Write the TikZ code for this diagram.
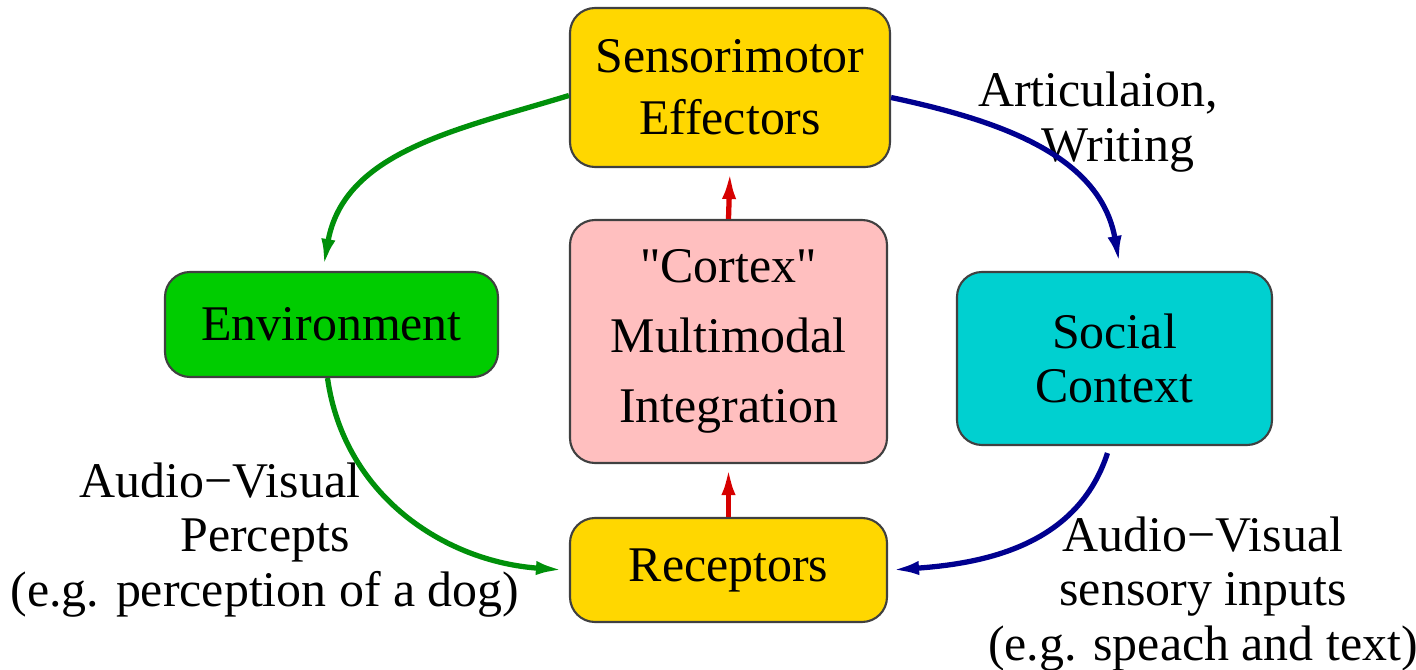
\documentclass[tikz,border=0pt]{standalone}
\usepackage{fontspec}
\setmainfont{LiberationSerif}[Extension=.ttf, UprightFont=*-Regular, BoldFont=*-Bold, ItalicFont=*-Italic, BoldItalicFont=*-BoldItalic]
\usepackage{xcolor}
\definecolor{boxgold}{HTML}{FFD700}
\definecolor{envgreen}{HTML}{00CC00}
\definecolor{cortexpink}{HTML}{FFBFBF}
\definecolor{socialcyan}{HTML}{00D0D0}
\definecolor{arrgreen}{HTML}{00900A}
\definecolor{arrblue}{HTML}{00008F}
\definecolor{arrred}{HTML}{D60000}
\usetikzlibrary{arrows.meta}

\begin{document}
\begin{tikzpicture}[box/.style={draw=black!75, line width=0.6pt, rounded corners=0.25cm, align=center, inner sep=0pt},
  flow/.style={line width=1.5pt, -{Latex[length=0.28cm, width=0.14cm]}},
  every node/.style={font=\fontsize{14.2}{15.5}\selectfont}]
  \useasboundingbox (0,0) rectangle (14.16,-6.70);
  \node[box, fill=boxgold, minimum width=3.20cm, minimum height=1.59cm] (effectors) at (7.30,-0.875) {Sensorimotor\\[2.1pt]Effectors};
  \node[box, fill=cortexpink, minimum width=3.17cm, minimum height=2.43cm] (cortex) at (7.285,-3.415) {\textquotedbl Cortex\textquotedbl\\[4.4pt]Multimodal\\[4.4pt]Integration};
  \node[box, fill=boxgold, minimum width=3.17cm, minimum height=1.04cm] (receptors) at (7.285,-5.70) {Receptors};
  \node[box, fill=envgreen, minimum width=3.33cm, minimum height=1.05cm] (environment) at (3.315,-3.245) {Environment};
  \node[box, fill=socialcyan, minimum width=3.15cm, minimum height=1.73cm] (social) at (11.145,-3.585) {Social\\Context};
  \node[align=center] (artic) at (10.98,-1.22) {Articulaion,\\\hspace*{0.4cm}Writing};
  \node[align=center] (percepts) at (2.65,-5.40) {Audio−Visual\hspace*{0.9cm}\\Percepts\\(e.g. perception of a dog)};
  \node[align=center] (sensory) at (12.03,-5.94) {Audio−Visual\\sensory inputs\\(e.g. speach and text)};
  \draw[flow, arrred] (receptors.north) -- ([yshift=-0.03cm]cortex.south);
  \draw[flow, arrred] (cortex.north) -- ([yshift=-0.03cm]effectors.south);
  \draw[flow, arrgreen] ([yshift=-0.08cm]effectors.west) to[out=197, in=80] ([xshift=-0.08cm, yshift=0.04cm]environment.north);
  \draw[flow, arrgreen] ([xshift=-0.04cm]environment.south) to[out=-82, in=176] ([xshift=-0.05cm]receptors.west);
  \draw[flow, arrblue] ([yshift=-0.1cm]effectors.east) to[out=-12, in=100] ([xshift=0.05cm, yshift=0.07cm]social.north);
  \draw[flow, arrblue] ([xshift=-0.07cm, yshift=-0.07cm]social.south) to[out=-108, in=4] ([xshift=0.03cm]receptors.east);
\end{tikzpicture}
\end{document}
